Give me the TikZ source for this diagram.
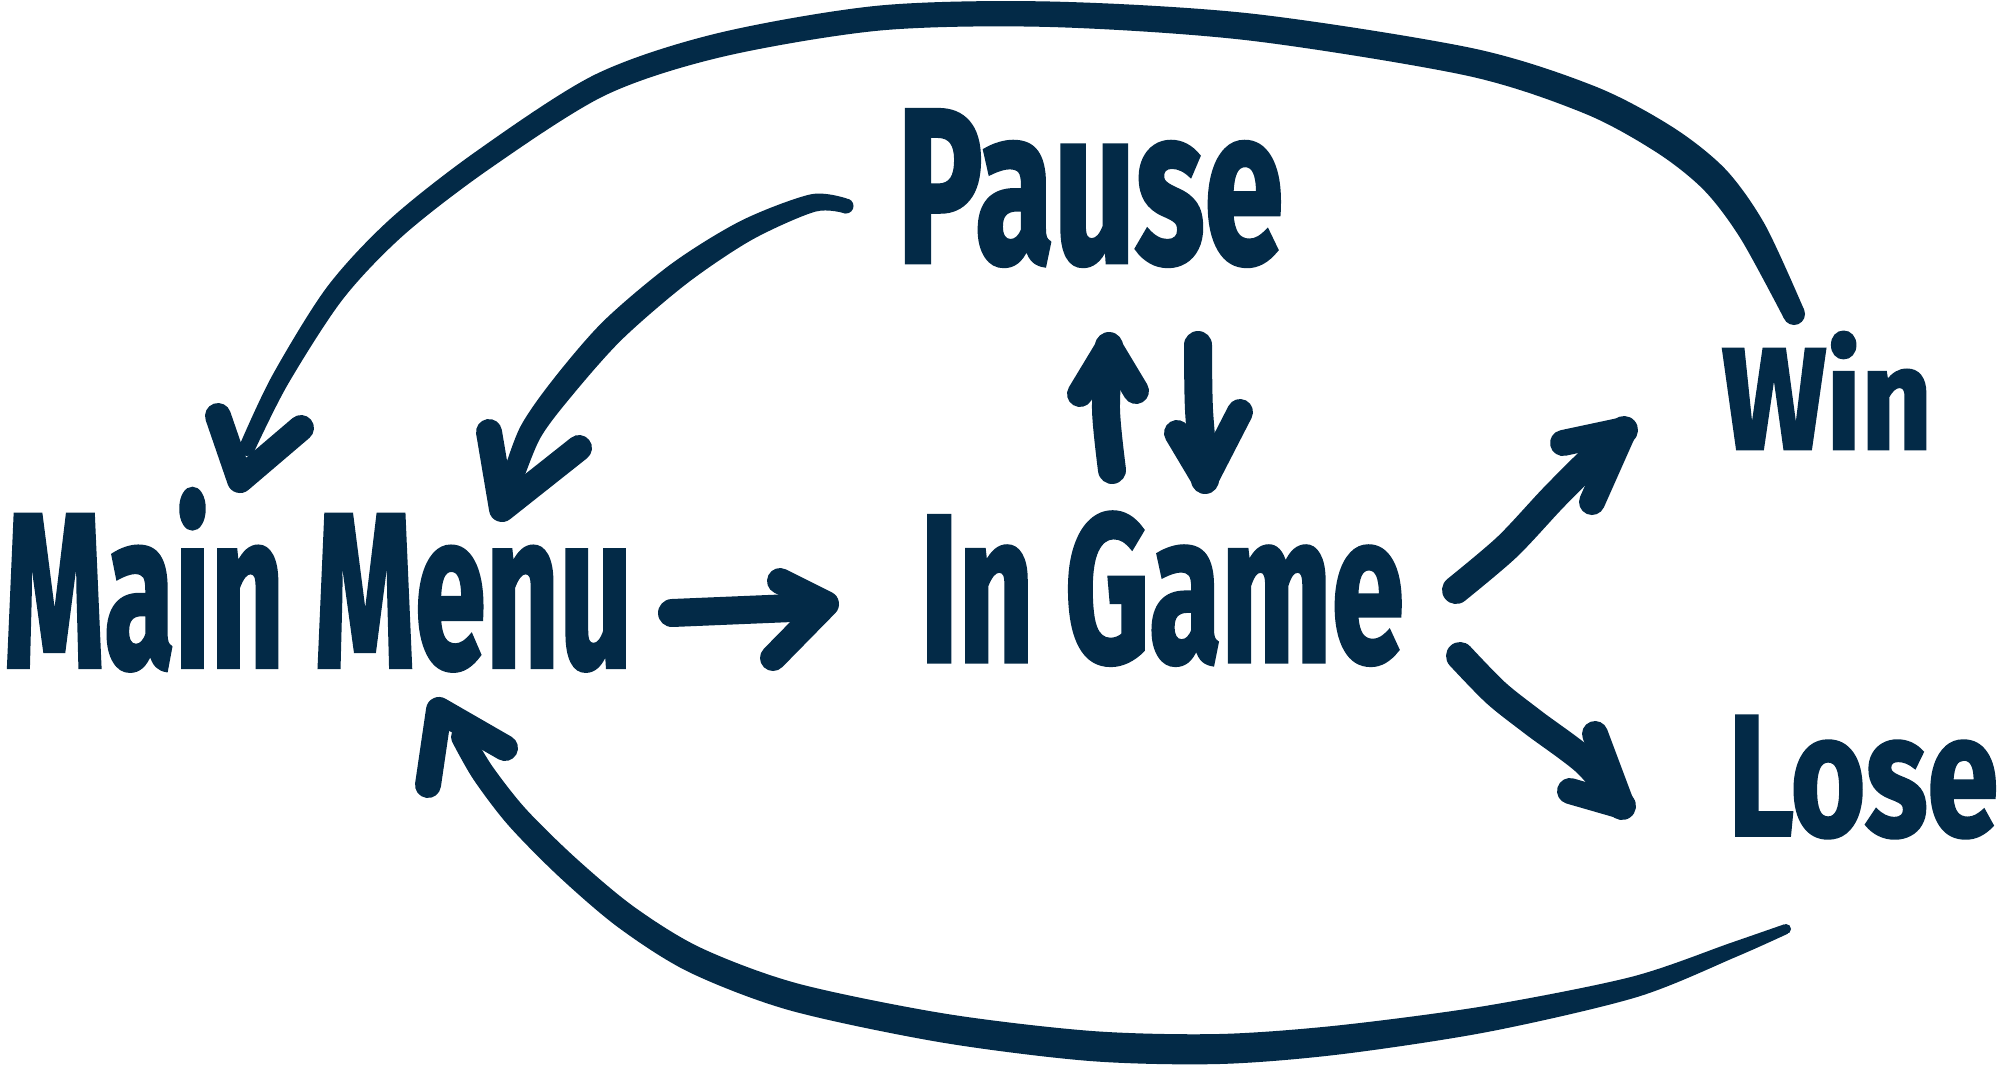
\documentclass[tikz,border=0pt]{standalone}
\usepackage{fontspec}
\setmainfont{Fira Sans}
\newfontfamily\hand[BoldFeatures={FakeBold=2}]{Fira Sans}
\usepackage{graphicx}
\definecolor{ink}{RGB}{3,42,71}
\tikzset{
  lbl/.style={inner sep=0pt, outer sep=0pt, anchor=south west, text=ink, font=\hand\bfseries},
  shaft/.style={draw=ink, line width=28pt, line cap=round, line join=round},
  head/.style={draw=ink, line width=26pt, line cap=round, line join=round},
  stroke/.style={fill=ink}
}
\begin{document}
\begin{tikzpicture}[x=1pt,y=-1pt]
\useasboundingbox (0,0) rectangle (1999,1066);
\fill[white] (0,0) rectangle (1999,1066);

% states
\node[lbl] (mm)    at (4,667)    {\resizebox{628pt}{152pt}{\smash{Main Menu}\vphantom{M}}};
\node[lbl] (ig)    at (920,665)  {\resizebox{484pt}{149pt}{In Game}};
\node[lbl] (pause) at (897,266)  {\resizebox{386pt}{152pt}{Pause}};
\node[lbl] (win)   at (1722,449) {\resizebox{210pt}{100pt}{\smash{Win}\vphantom{W}}};
\node[lbl] (lose)  at (1728,838) {\resizebox{270pt}{119pt}{Lose}};

% connector ends
\coordinate (mmig-s) at (672,613);
\coordinate (mmig-e) at (816,607);
\coordinate (mmig-t) at (826,604);

\coordinate (igp-s) at (1112,470);
\coordinate (igp-t) at (1109,346);
\coordinate (pig-s) at (1198,345);
\coordinate (pig-t) at (1205,480);

\coordinate (igw-s) at (1456,590);
\coordinate (igw-t) at (1624,430);
\coordinate (igl-s) at (1460,656);
\coordinate (igl-t) at (1622,806);

\coordinate (pmm-s) at (846,206);
\coordinate (pmm-e) at (510,486);
\coordinate (pmm-t) at (502,509);

\coordinate (wmm-s) at (1794,314);
\coordinate (wmm-e) at (247,448);
\coordinate (wmm-t) at (240,480);

\coordinate (lmm-s) at (1786,929);
\coordinate (lmm-e) at (462,737);
\coordinate (lmm-t) at (439,710);

% Main Menu -> In Game
\draw[shaft] (mmig-s) -- (mmig-e);
\draw[head] (mmig-t) ++(-46,-23) -- (mmig-t) -- ++(-53,54);

% In Game -> Pause
\draw[shaft] plot[smooth] coordinates {(igp-s) (1106,410) (igp-t)};
\draw[head] (igp-t) ++(-29,48) -- (igp-t) -- ++(27,45);

% Pause -> In Game
\draw[shaft] plot[smooth] coordinates {(pig-s) (1199,410) (pig-t)};
\draw[head] (pig-t) ++(-28,-47) -- (pig-t) -- ++(35,-68);

% In Game -> Win
\draw[shaft] plot[smooth] coordinates {(igw-s) (1507,547) (1553,498) (1591,460) (igw-t)};
\draw[head] (igw-t) ++(-61,13) -- (igw-t) -- ++(-32,72);

% In Game -> Lose
\draw[shaft] plot[smooth] coordinates {(igl-s) (1496,693) (1534,723) (1587,763) (igl-t)};
\draw[head] (igl-t) ++(-27,-72) -- (igl-t) -- ++(-52,-15);

% Pause -> Main Menu (tapered brush stroke)
\fill[stroke] plot[smooth] coordinates {(846.7,198.5) (810.9,194.3) (741.9,220.3) (672.5,263) (603.9,320.7) (553.3,379.2) (519.9,427.6) (500.2,482.3)}
  -- plot[smooth] coordinates {(519.8,489.7) (540.1,438.4) (572.7,394.8) (622.1,339.3) (687.5,283) (752.1,239.7) (815.1,211.7) (845.3,213.5)} -- cycle;
\fill[stroke] (pmm-s) circle[radius=7.5pt];
\fill[stroke] (pmm-e) circle[radius=10.5pt];
\draw[head] (pmm-t) ++(-13,-77) -- (pmm-t) -- ++(77,-61);

% Win -> Main Menu
\fill[stroke] plot[smooth] coordinates {(1803.8,309.1) (1765.1,224.9) (1725.8,169.6) (1673.1,127.4) (1595.4,86.5) (1472.9,48.3) (1251.6,13.6) (1050,1.5) (878.8,5.6) (717.2,33.3) (595,74.6) (476.7,151) (390,219.2) (327.1,286.9) (272.2,375.6) (239.8,444.5)}
  -- plot[smooth] coordinates {(254.2,451.5) (287.8,384.4) (342.9,299.1) (404,234.8) (489.3,169) (605,95.4) (722.8,56.7) (881.2,30.4) (1050,27) (1248.4,40.4) (1467.1,75.7) (1584.6,113.5) (1656.9,152.6) (1704.2,190.4) (1740.9,239.1) (1784.2,318.9)} -- cycle;
\fill[stroke] (wmm-s) circle[radius=11pt];
\fill[stroke] (wmm-e) circle[radius=8pt];
\draw[head] (wmm-t) ++(-22,-64) -- (wmm-t) -- ++(61,-52);

% Lose -> Main Menu
\fill[stroke] plot[smooth] coordinates {(1784.2,924.3) (1730.3,943) (1631.2,976.9) (1483.7,1006.2) (1336.4,1025.6) (1218.6,1034) (1092.1,1031) (945.4,1013.7) (797.7,983.5) (700.8,947.8) (633.6,906.5) (575.5,857.8) (525.9,809) (492.5,766.5) (471.5,731.5)}
  -- plot[smooth] coordinates {(452.5,742.5) (473.5,779.5) (508.1,825) (558.5,876.2) (618.4,927.5) (689.2,972.2) (790.3,1010.5) (940.6,1042.3) (1089.9,1061) (1219.4,1064) (1339.6,1054.4) (1488.3,1031.8) (1636.8,997.1) (1735.7,957) (1787.8,933.7)} -- cycle;
\fill[stroke] (lmm-s) circle[radius=5pt];
\fill[stroke] (lmm-e) circle[radius=11pt];
\draw[head] (lmm-t) ++(-11,75) -- (lmm-t) -- ++(66,38);
\end{tikzpicture}
\end{document}
